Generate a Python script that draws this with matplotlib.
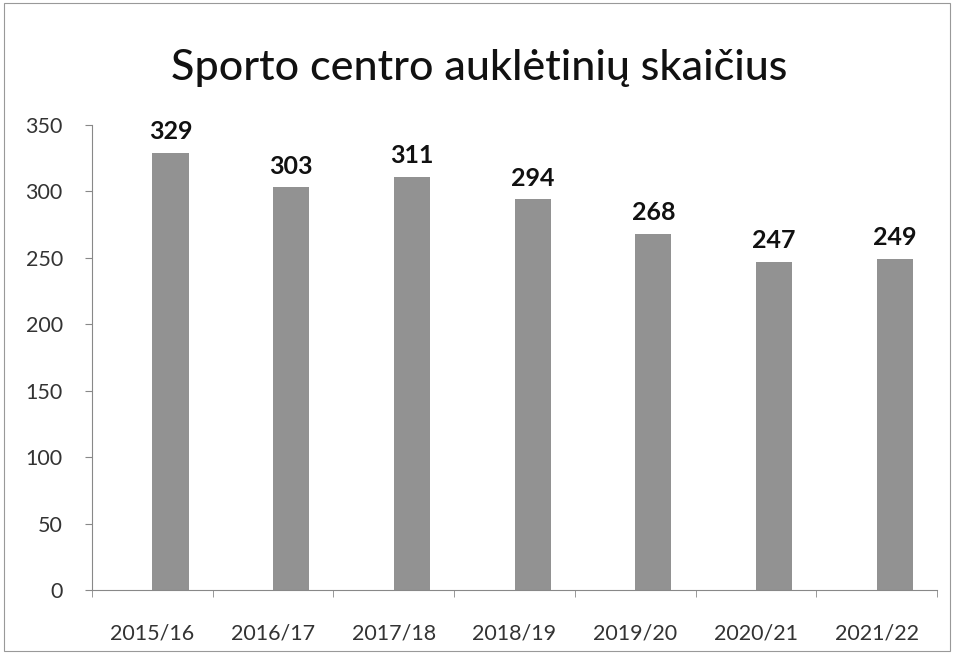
import numpy as np
import matplotlib.pyplot as plt

# Sporto centro auklėtinių skaičius pagal mokslo metus
seasons = ["2015/16", "2016/17", "2017/18", "2018/19", "2019/20", "2020/21", "2021/22"]
students = [329, 303, 311, 294, 268, 247, 249]

plt.rcParams['font.family'] = ['Lato', 'DejaVu Sans']

fig = plt.figure(figsize=(9.54, 6.54), dpi=100)
ax = fig.add_axes([92/954, 64/654, 845/954, 465/654])

x = np.arange(len(seasons))
# bars start at the category centre (as in the original Excel chart)
bars = ax.bar(x, students, width=0.3, align="edge", color="#929292", zorder=2)

for xi, v in zip(x, students):
    ax.annotate(str(v), (xi + 0.15, v), xytext=(0, 7), textcoords="offset points",
                ha="center", va="bottom", fontsize=18, fontweight="bold", color="#111111")

ax.set_xlim(-0.5, len(seasons) - 0.5)
ax.set_ylim(0, 350)
ax.set_yticks(range(0, 351, 50))
ax.set_xticks(x)
ax.set_xticklabels(seasons)
ax.set_xticks(np.arange(-0.5, len(seasons), 1), minor=True)
ax.tick_params(axis="x", which="major", length=0, pad=24, labelsize=15.5, labelcolor="#333333")
ax.tick_params(axis="x", which="minor", length=5, color="#888888")
ax.tick_params(axis="y", length=5, color="#888888", labelsize=15.5, labelcolor="#333333", pad=16)

for side in ["top", "right"]:
    ax.spines[side].set_visible(False)
for side in ["left", "bottom"]:
    ax.spines[side].set_color("#888888")

fig.text(0.502, 1 - 68/654, "Sporto centro auklėtinių skaičius", ha="center", va="center",
         fontsize=31, fontweight="medium", color="#111111")

fig.patches.append(plt.Rectangle((0.004, 0.004), 0.992, 0.992, transform=fig.transFigure,
                                 fill=False, edgecolor="#999999", linewidth=0.8))

fig.savefig("out.png", dpi=100)
